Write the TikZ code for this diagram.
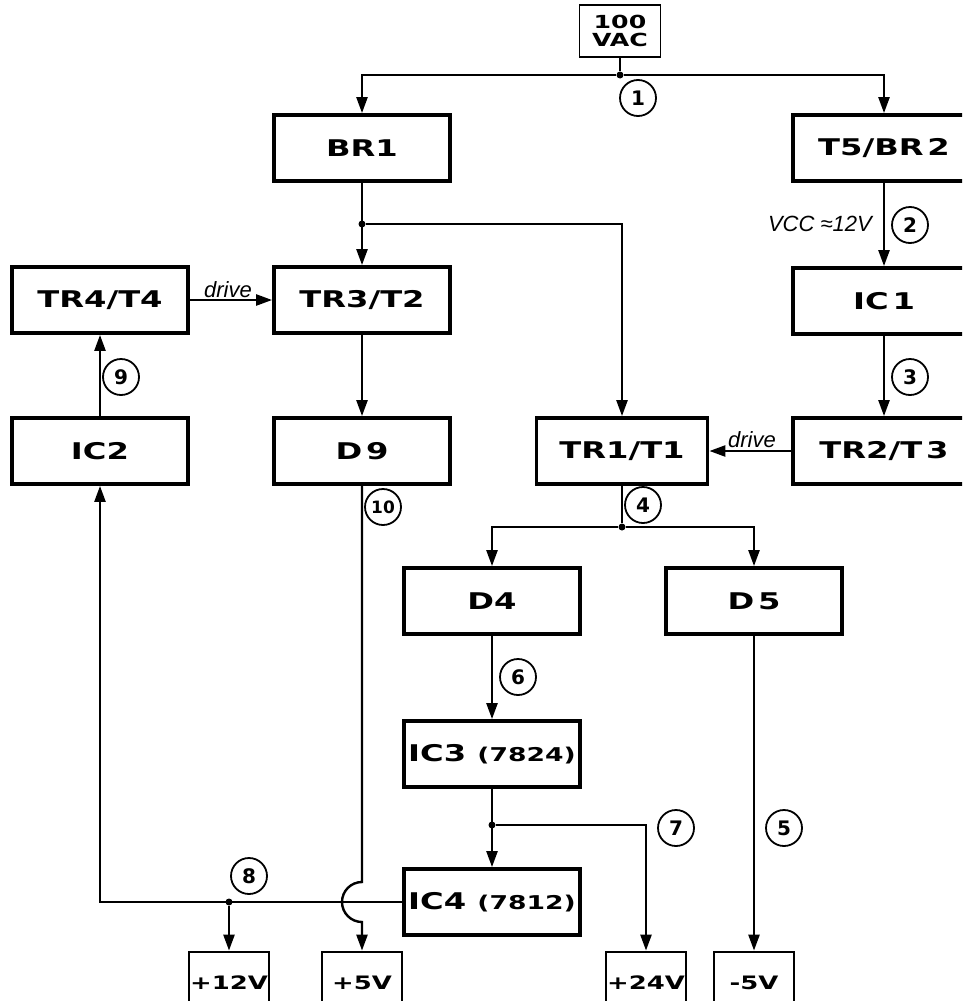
\documentclass[tikz,border=0pt]{standalone}
\usepackage{fontspec}
\usetikzlibrary{arrows.meta, positioning, calc}
\newfontfamily\blockfont[FakeStretch=1.4]{DejaVu Sans}
\newfontfamily\tagfont{DejaVu Sans}
\newfontfamily\notefont{Liberation Sans}

\begin{document}
\begin{tikzpicture}[x=1pt, y=-1pt,
	block/.style={rectangle, draw, line width=3.8pt, minimum height=66pt, minimum width=176pt, align=center, inner sep=2pt, font=\blockfont\bfseries\fontsize{23}{26}\selectfont},
	railbox/.style={rectangle, draw, line width=2.8pt, minimum height=62pt, minimum width=80pt, inner sep=1pt, font=\blockfont\bfseries\fontsize{18.5}{20}\selectfont},
	srcbox/.style={rectangle, draw, line width=1.6pt, minimum height=52pt, minimum width=81pt, align=center, inner sep=1pt, font=\blockfont\bfseries\fontsize{18}{18}\selectfont},
	numtag/.style={circle, draw, line width=1.8pt, minimum size=36pt, inner sep=0pt, font=\tagfont\bfseries\fontsize{20}{20}\selectfont},
	joint/.style={circle, fill, inner sep=0pt, minimum size=7pt},
	arrow/.style={-{Triangle[length=16pt, width=11pt]}, line width=2.4pt},
	drivelabel/.style={inner sep=1pt, font=\notefont\itshape\fontsize{22}{22}\selectfont}
	]
	\clip (0,0) rectangle (962,1001);
	% blocks
	\node[srcbox] (vac) at (620,31) {100\\VAC};
	\node[block] (br1) at (362,148) {BR1};
	\node[block, minimum width=182pt] (t5br2) at (884,148) {T5/BR\,2};
	\node[block] (tr4) at (100,300) {TR4/T4};
	\node[block] (tr3) at (362,300) {TR3/T2};
	\node[block, minimum width=182pt] (ic1) at (884,301) {IC\,1};
	\node[block] (ic2) at (100,451) {IC2};
	\node[block] (d9) at (362,451) {D\,9};
	\node[block, minimum width=171pt] (tr1) at (622,451) {TR1/T1};
	\node[block, minimum width=182pt] (tr2) at (884,451) {TR2/T\,3};
	\node[block] (d4) at (492,601) {D4};
	\node[block] (d5) at (754,601) {D\,5};
	\node[block] (ic3) at (492,754) {IC3 {\fontsize{19}{19}\selectfont(7824)}};
	\node[block] (ic4) at (492,902) {IC4 {\fontsize{19}{19}\selectfont(7812)}};
	\node[railbox] (p12) at (229,983) {+12V};
	\node[railbox] (p5) at (362,983) {+5V};
	\node[railbox] (p24) at (646,983) {+24V};
	\node[railbox] (m5) at (754,983) {-5V};
	% junctions
	\node[joint] (j1) at (620,75) {};
	\node[joint] (j2) at (362,224) {};
	\node[joint] (j4) at (622,527) {};
	\node[joint] (j6) at (492,825) {};
	\node[joint] (j8) at (229,902) {};
	\coordinate (hopin) at (362,882);
	% connectors
	\draw[line width=2.4pt] (vac) -- (j1);
	\draw[arrow] (j1) -| (br1.north);
	\draw[arrow] (j1) -| (t5br2.north);
	\draw[arrow] (br1) -- (tr3);
	\draw[arrow] (j2) -| (tr1.north);
	\draw[arrow] (t5br2) -- (ic1);
	\draw[arrow] (ic1) -- (tr2);
	\draw[arrow] (tr2) -- (tr1);
	\draw[arrow] (tr4) -- (tr3);
	\draw[arrow] (tr3) -- (d9);
	\draw[arrow] (ic2) -- (tr4);
	\draw[line width=2.4pt] (tr1) -- (j4);
	\draw[arrow] (j4) -| (d4.north);
	\draw[arrow] (j4) -| (d5.north);
	\draw[arrow] (d4) -- (ic3);
	\draw[arrow] (ic3) -- (ic4);
	\draw[arrow] (j6) -| (p24.north);
	\draw[arrow] (d5) -- (m5);
	\draw[arrow] (ic4.west) -| (ic2.south);
	\draw[arrow] (j8) -- (p12);
	\draw[arrow] (d9) -- (hopin) arc[start angle=90, end angle=270, radius=20pt] -- (p5);
	% labels
	\node[drivelabel, anchor=south] (drv1) at (228,299) {drive};
	\node[drivelabel, anchor=south] (drv2) at (752,449) {drive};
	\node[drivelabel, anchor=east] (vcc) at (873,224) {VCC ≈12V};
	\node[numtag] (n1) at (638,98) {1};
	\node[numtag] (n2) at (910,225) {2};
	\node[numtag] (n3) at (910,377) {3};
	\node[numtag] (n4) at (643,505) {4};
	\node[numtag] (n5) at (784,828) {5};
	\node[numtag] (n6) at (518,677) {6};
	\node[numtag] (n7) at (676,828) {7};
	\node[numtag] (n8) at (249,876) {8};
	\node[numtag] (n9) at (121,377) {9};
	\node[numtag, font=\tagfont\bfseries\fontsize{17}{17}\selectfont] (n10) at (383,507) {10};
\end{tikzpicture}
\end{document}
